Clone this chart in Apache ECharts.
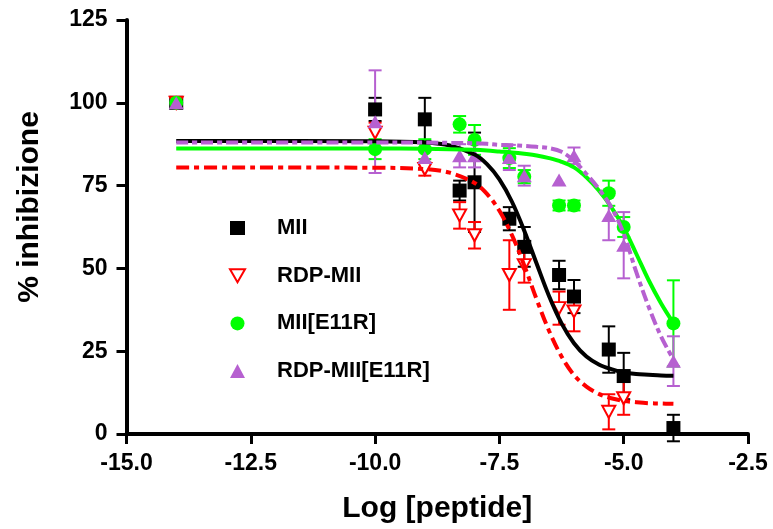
<!DOCTYPE html>
<html>
<head>
<meta charset="utf-8">
<script src="https://cdn.jsdelivr.net/npm/echarts@6/dist/echarts.min.js"></script>
<style>html,body{margin:0;padding:0;background:#fff}#c{width:773px;height:529px}</style>
</head>
<body>
<div id="c"></div>
<script>
// ---- data ----
const xTicks = [-15, -12.5, -10, -7.5, -5, -2.5];
const yTicks = [0, 25, 50, 75, 100, 125];
const logConc = [-14, -10, -9, -8.3, -8, -7.3, -7, -6.3, -6, -5.3, -5, -4];

const miiMean = [100, 98, 95, 73.5, 76, 65, 56.5, 48, 41.5, 25.5, 17.5, 1.8];
const miiErr  = [0, 3.5, 6.5, 3, 15, 3.5, 6, 4.3, 5, 7, 7, 4];

const rdpMean = [100, 91, 80, 66, 60, 48, 51, 38, 37, 6.7, 10.8, null];
const rdpErr  = [0, 3, 2, 4, 4, 10.5, 5.3, 5, 6, 5.3, 5, null];

const e11Mean = [100, 86, 86, 93.5, 88.8, 83.3, 77.7, 69, 69, 72.7, 62.5, 33.4];
const e11Err  = [0, 3, 3, 2.5, 4.5, 3, 2, 1.5, 1.5, 3.8, 3, 13];

const rdpE11Mean = [100, 94.3, 83.5, 84, 84, 83.5, 78, 76.7, 84, 66, 57, 22];
const rdpE11Err  = [0, 15.5, 2, 3.5, 3.5, 3.8, 3, 0, 2.5, 7.5, 10, 7.5];

// fitted curves, values
const curveX = [-14, -10, -9, -8.5, -8, -7.75, -7.5, -7.25, -7, -6.75, -6.5, -6.25, -6, -5.75, -5.5, -5.25, -5, -4.75, -4.5, -4.25, -4];
const miiFit    = [88.5, 88.4, 88.0, 87.1, 84.4, 81.5, 76.9, 70.2, 61.4, 51.4, 41.6, 33.4, 27.4, 23.4, 21.0, 19.6, 18.6, 18.1, 17.9, 17.7, 17.6];
const rdpFit    = [80.5, 80.4, 80.0, 78.9, 75.8, 72.5, 67.4, 60.1, 50.9, 40.6, 31.1, 23.4, 17.8, 14.3, 12.1, 10.8, 10.0, 9.6, 9.3, 9.2, 9.1];
const e11Fit    = [86.2, 86.2, 86.1, 86.0, 85.8, 85.6, 85.3, 85.0, 84.6, 84.1, 83.3, 82.2, 80.5, 77.5, 73.5, 68.5, 62.3, 54.5, 46.5, 39.5, 33.5];
const rdpE11Fit = [88.0, 88.0, 88.0, 87.9, 87.8, 87.6, 87.3, 87.2, 87.0, 86.7, 86.3, 85.2, 82.5, 78.5, 74.0, 68.5, 60.5, 49.0, 38.5, 29.5, 22.5];

const names = ['MII', 'RDP-MII', 'MII[E11R]', 'RDP-MII[E11R]'];
const colors = ['#000000', '#ff0000', '#00ff00', '#b660d0'];

// ---- build ----
const FONT = '"Liberation Sans", Arial, sans-serif';
const downTri = 'path://M0,0L10,0L5,8.66Z';

function pts(xs, ys) {
  const out = [];
  for (let i = 0; i < xs.length; i++) if (ys[i] !== null) out.push([xs[i], ys[i]]);
  return out;
}
function errPts(xs, ys, es) {
  const out = [];
  for (let i = 0; i < xs.length; i++) if (ys[i] !== null && es[i]) out.push([xs[i], ys[i], es[i]]);
  return out;
}
function errSeries(name, color, data) {
  return {
    type: 'custom', name: name + ' err', data: data, silent: true,
    encode: { x: 0, y: 1 },
    renderItem: function (params, api) {
      const x = api.value(0), y = api.value(1), e = api.value(2);
      const t = api.coord([x, y + e]), b = api.coord([x, y - e]);
      const w = 6.5;
      const st = { stroke: color, lineWidth: 2 };
      return {
        type: 'group', children: [
          { type: 'line', shape: { x1: t[0], y1: t[1], x2: b[0], y2: b[1] }, style: st },
          { type: 'line', shape: { x1: t[0] - w, y1: t[1], x2: t[0] + w, y2: t[1] }, style: st },
          { type: 'line', shape: { x1: b[0] - w, y1: b[1], x2: b[0] + w, y2: b[1] }, style: st }
        ]
      };
    }
  };
}
function fitSeries(name, color, ys, dash) {
  return {
    type: 'line', name: name + ' fit', data: pts(curveX, ys), smooth: 0.35,
    symbol: 'none', silent: true,
    lineStyle: { color: color, width: 4, type: dash || 'solid' }
  };
}

const series = [
  fitSeries('MII', colors[0], miiFit),
  errSeries('MII', colors[0], errPts(logConc, miiMean, miiErr)),
  { type: 'scatter', name: 'MII', data: pts(logConc, miiMean), symbol: 'rect', symbolSize: 14,
    itemStyle: { color: colors[0], opacity: 1 } },

  fitSeries('RDP-MII', colors[1], rdpFit, [13, 5, 5, 5]),
  errSeries('RDP-MII', colors[1], errPts(logConc, rdpMean, rdpErr)),
  { type: 'scatter', name: 'RDP-MII', data: pts(logConc, rdpMean), symbol: downTri, symbolSize: [13, 12],
    itemStyle: { color: '#ffffff', borderColor: colors[1], borderWidth: 2, opacity: 1 } },

  fitSeries('MII[E11R]', colors[2], e11Fit),
  errSeries('MII[E11R]', colors[2], errPts(logConc, e11Mean, e11Err)),
  { type: 'scatter', name: 'MII[E11R]', data: pts(logConc, e11Mean), symbol: 'circle', symbolSize: 14,
    itemStyle: { color: colors[2], opacity: 1 } },

  fitSeries('RDP-MII[E11R]', colors[3], rdpE11Fit, [12, 4, 5, 4]),
  errSeries('RDP-MII[E11R]', colors[3], errPts(logConc, rdpE11Mean, rdpE11Err)),
  { type: 'scatter', name: 'RDP-MII[E11R]', data: pts(logConc, rdpE11Mean), symbol: 'triangle', symbolSize: [15, 13],
    itemStyle: { color: colors[3], opacity: 1 } }
];

const axisCommon = {
  axisLine: { show: true, onZero: false, lineStyle: { color: '#000', width: 4 } },
  axisTick: { show: true, inside: false, length: 10, lineStyle: { color: '#000', width: 3 } },
  splitLine: { show: false },
  nameLocation: 'middle'
};

const chart = echarts.init(document.getElementById('c'), null, { renderer: 'canvas' });
chart.setOption({
  animation: false,
  backgroundColor: '#ffffff',
  grid: { left: 126.5, right: 25, top: 20, bottom: 95, containLabel: false },
  xAxis: Object.assign({}, axisCommon, {
    type: 'value', min: xTicks[0], max: xTicks[xTicks.length - 1], interval: 2.5,
    name: 'Log [peptide]', nameGap: 60,
    nameTextStyle: { color: '#000', fontSize: 30, fontWeight: 'bold', fontFamily: FONT },
    axisLabel: { color: '#000', fontSize: 23, fontWeight: 'bold', fontFamily: FONT, margin: 18,
      formatter: v => v.toFixed(1) }
  }),
  yAxis: Object.assign({}, axisCommon, {
    type: 'value', min: yTicks[0], max: yTicks[yTicks.length - 1], interval: 25,
    name: '% inhibizione', nameGap: 82,
    nameTextStyle: { color: '#000', fontSize: 30, fontWeight: 'bold', fontFamily: FONT, padding: [0, 0, 0, 40] },
    axisLabel: { color: '#000', fontSize: 23, fontWeight: 'bold', fontFamily: FONT, margin: 19 }
  }),
  legend: {
    orient: 'vertical', left: 229, top: 216, padding: 0,
    itemWidth: 15, itemHeight: 14, itemGap: 23.7,
    data: [
      { name: names[0], icon: 'rect' },
      { name: names[1], icon: downTri },
      { name: names[2], icon: 'circle' },
      { name: names[3], icon: 'triangle' }
    ],
    textStyle: { color: '#000', fontSize: 22, fontWeight: 'bold', fontFamily: FONT, lineHeight: 24,
      padding: [0, 0, 0, 27] }
  },
  series: series
});
</script>
</body>
</html>
